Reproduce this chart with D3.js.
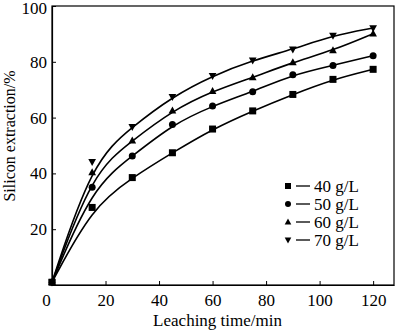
<!DOCTYPE html>
<html><head><meta charset="utf-8">
<script src="https://d3js.org/d3.v7.min.js"></script>
<style>body{margin:0;background:#fff}svg{display:block}svg text{font-family:"Liberation Serif","Times New Roman",serif}</style>
</head><body>
<script>
const times = [0, 15, 30, 45, 60, 75, 90, 105, 120];
const s40 = [1, 27.8, 38.5, 47.4, 55.9, 62.4, 68.3, 73.7, 77.3];
const s50 = [1, 35.0, 46.2, 57.5, 64.2, 69.3, 75.4, 78.7, 82.2];
const s60 = [1, 40.3, 51.7, 62.5, 69.5, 74.4, 79.8, 84.1, 90.1];
const s70 = [1, 44.2, 56.7, 67.5, 75.0, 80.5, 84.5, 89.4, 92.1];
const seriesNames = ["40 g/L", "50 g/L", "60 g/L", "70 g/L"];
const seriesValues = [s40, s50, s60, s70];
const markers = ["square", "circle", "tri", "tridown"];
const xTicks = [0, 20, 40, 60, 80, 100, 120];
const yTicks = [0, 20, 40, 60, 80, 100];

const W = 400, H = 331;
const m = {l: 52, t: 6, r: 6, b: 46};
const svg = d3.select("body").append("svg").attr("width", W).attr("height", H);
const font = "'Liberation Serif','Times New Roman',serif";

const x = d3.scaleLinear().domain([0, 127.8]).range([m.l, W - m.r]);
const y = d3.scaleLinear().domain([0, 100]).range([H - m.b, m.t]);

svg.append("rect").attr("x", x(0)).attr("y", y(100)).attr("width", x(127.8) - x(0)).attr("height", y(0) - y(100))
  .attr("fill", "none").attr("stroke", "#000").attr("stroke-width", 1.2);

const xa = svg.append("g").attr("transform", `translate(0,${y(0)})`)
  .call(d3.axisBottom(x).tickValues(xTicks).tickSizeInner(-4).tickSizeOuter(0).tickPadding(9));
const ya = svg.append("g").attr("transform", `translate(${x(0)},0)`)
  .call(d3.axisLeft(y).tickValues(yTicks).tickSizeInner(-4).tickSizeOuter(0).tickPadding(5));
[xa, ya].forEach(a => {
  a.attr("font-family", null);
  a.select(".domain").attr("stroke", "#000").attr("stroke-width", 1.2);
  a.selectAll(".tick line").attr("stroke", "#000").attr("stroke-width", 1);
  a.selectAll("text").style("font-family", font).attr("font-size", 17).attr("fill", "#000");
});
xa.selectAll(".tick").filter(d => d === 0).select("text").attr("dx", -6);
ya.selectAll(".tick").filter(d => d === 0).select("text").remove();
ya.selectAll(".tick").filter(d => d === 100).select("text").attr("dy", "0.42em");

svg.append("text").attr("x", x(60) + 5).attr("y", 326).attr("text-anchor", "middle")
  .style("font-family", font).attr("font-size", 17).text("Leaching time/min");
svg.append("text").attr("transform", `translate(15,136) rotate(-90)`).attr("text-anchor", "middle")
  .style("font-family", font).attr("font-size", 16).text("Silicon extraction/%");

const line = d3.line().x((d, i) => x(times[i])).y(d => y(d)).curve(d3.curveBasis);

function drawMarker(sel, type, cx, cy, s) {
  if (type === "tri") {
    sel.append("path").attr("d", `M${cx},${cy - s * 0.6}L${cx + s * 0.55},${cy + s * 0.4}L${cx - s * 0.55},${cy + s * 0.4}Z`).attr("fill", "#000");
  } else if (type === "tridown") {
    sel.append("path").attr("d", `M${cx},${cy + s * 0.6}L${cx + s * 0.55},${cy - s * 0.4}L${cx - s * 0.55},${cy - s * 0.4}Z`).attr("fill", "#000");
  } else if (type === "square") {
    sel.append("rect").attr("x", cx - s / 2).attr("y", cy - s / 2).attr("width", s).attr("height", s).attr("fill", "#000");
  } else {
    sel.append("circle").attr("cx", cx).attr("cy", cy).attr("r", s / 2).attr("fill", "#000");
  }
}

seriesValues.forEach((vals, k) => {
  const sg = svg.append("g");
  sg.append("path").datum(vals).attr("d", line).attr("fill", "none").attr("stroke", "#000").attr("stroke-width", 1.6);
  vals.forEach((v, i) => drawMarker(sg, markers[k], x(times[i]), y(v), 7));
});

const lg = svg.append("g");
seriesNames.forEach((n, k) => {
  const ly = 186 + k * 18;
  drawMarker(lg, markers[k], 288, ly, 6);
  lg.append("line").attr("x1", 296).attr("x2", 310).attr("y1", ly).attr("y2", ly).attr("stroke", "#000").attr("stroke-width", 1.3);
  lg.append("text").attr("x", 314).attr("y", ly + 5.5).style("font-family", font).attr("font-size", 17).text(n);
});
</script>
</body></html>
